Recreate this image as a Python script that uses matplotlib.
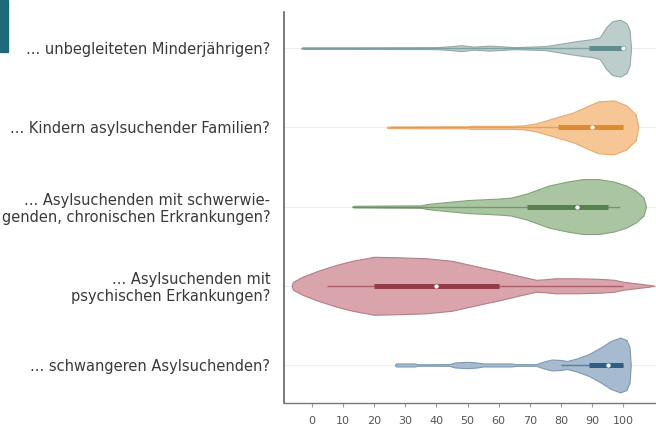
import matplotlib.pyplot as plt
import numpy as np

# categories (top to bottom)
labels = [
    "... unbegleiteten Minderjährigen?",
    "... Kindern asylsuchender Familien?",
    "... Asylsuchenden mit schwerwie-\ngenden, chronischen Erkrankungen?",
    "... Asylsuchenden mit\npsychischen Erkankungen?",
    "... schwangeren Asylsuchenden?",
]

# violin outlines: x values and density (half width, relative)
x_minder = [-3.5, -3, 15, 40, 45, 48, 52, 57, 60, 65, 70, 75, 80, 85, 90, 92.5, 94.5, 96.5, 99, 101, 102, 102.5]
d_minder = [0, 0.8, 0.8, 1, 2, 3, 1.5, 2.5, 2, 1, 1.5, 2, 4.5, 7, 9, 11, 21, 27, 28.5, 25, 18, 0]

x_kinder = [24, 24.5, 50, 51, 64, 68, 72, 78, 84, 89, 92, 97, 101, 104, 104.8]
d_kinder = [0, 0.8, 1.0, 1.5, 1.5, 2, 4, 9.5, 15, 22, 26, 27, 22, 13, 0]

x_chron = [13, 13.5, 35, 37, 40, 50, 60, 64, 69, 76, 82, 87, 92, 97, 101, 104, 106.5, 107.3]
d_chron = [0, 0.8, 1.2, 2.5, 3.5, 6.5, 8, 9, 13, 21, 25, 27.5, 27.5, 25, 21, 16, 9, 0]

x_psych = [-6.5, -6, -3, 2, 8, 13, 20, 28, 37, 45, 50, 55, 61, 67, 72, 75, 78, 85, 92, 97, 100, 104, 108, 110]
d_psych = [0, 4, 9, 15, 21, 25, 29, 28.5, 27.5, 25, 21.5, 18, 14, 9.5, 6, 6.5, 7.5, 7.5, 7, 6, 4, 2.5, 1, 0]

x_schw = [26.7, 27, 33, 34, 44, 46, 50, 53, 55, 64, 66, 72, 74, 77, 80, 82, 85, 89, 93, 96, 99, 101, 102, 102.4]
d_schw = [0, 1.5, 1.5, 0.7, 0.8, 2.5, 3.2, 2.5, 1.5, 1.5, 0.8, 0.8, 3, 5.5, 5, 4, 6.5, 11, 18, 24, 27.5, 25, 18, 0]

# box statistics: whisker low, q1, median, q3, whisker high
whisk_lo = [-3, 25, 13, 5, 80]
q1 = [89, 79, 69, 20, 89]
median = [100, 90, 85, 40, 95]
q3 = [100, 100, 95, 60, 100]
whisk_hi = [100, 100, 99, 100, 100]

xs = [x_minder, x_kinder, x_chron, x_psych, x_schw]
ds = [d_minder, d_kinder, d_chron, d_psych, d_schw]

fills = ["#bccdcc", "#f7c695", "#aac5a2", "#d9a4ab", "#a6bbcf"]
edges = ["#93aaa9", "#e7aa6c", "#84a27c", "#b47e86", "#7f98b0"]
boxes = ["#5f8d8c", "#df8b30", "#577f50", "#933b47", "#2f5d86"]

plt.rcParams["font.family"] = ["DejaVu Sans"]

fig = plt.figure(figsize=(6.56, 4.29), dpi=100)
ax = fig.add_axes([0.433, 0.0606, 0.567, 0.911])

scale = 1 / 79.3
for i in range(len(labels)):
    x = np.array(xs[i])
    d = np.array(ds[i]) * scale
    ax.axhline(i, color="#eeeeee", lw=0.8, zorder=0)
    ax.fill_between(x, i - d, i + d, facecolor=fills[i], edgecolor=edges[i],
                    linewidth=0.8, zorder=2)
    ax.hlines(i, whisk_lo[i], whisk_hi[i], color=boxes[i], lw=1.0,
              alpha=0.65, zorder=3)
    ax.hlines(i, q1[i], q3[i], color=boxes[i], lw=3.6, zorder=4,
              capstyle="butt")
    ax.plot(median[i], i, "o", ms=3.6, mfc="white", mec=boxes[i],
            mew=0.4, zorder=5)

ax.set_xlim(-8.9, 110.5)
ax.set_ylim(4.48, -0.454)
ax.set_xticks(np.arange(0, 101, 10))
ax.set_yticks(range(len(labels)))
ax.set_yticklabels(labels, fontsize=10.5, color="#3a3a3a", linespacing=1.15)
ax.tick_params(axis="y", length=0, pad=10)
ax.tick_params(axis="x", length=3, width=0.8, color="#999999", pad=6,
               labelsize=8, labelcolor="#555555")

for side in ["top", "right"]:
    ax.spines[side].set_visible(False)
ax.spines["left"].set_color("#555555")
ax.spines["bottom"].set_color("#777777")
ax.spines["left"].set_linewidth(1.1)
ax.spines["bottom"].set_linewidth(1.0)

# teal marker at top left
fig.patches.append(plt.Rectangle((0, 1 - 52 / 429), 8 / 656, 52 / 429,
                                 transform=fig.transFigure,
                                 color="#1e6a7a", zorder=0))

plt.savefig("out.png", dpi=100)
